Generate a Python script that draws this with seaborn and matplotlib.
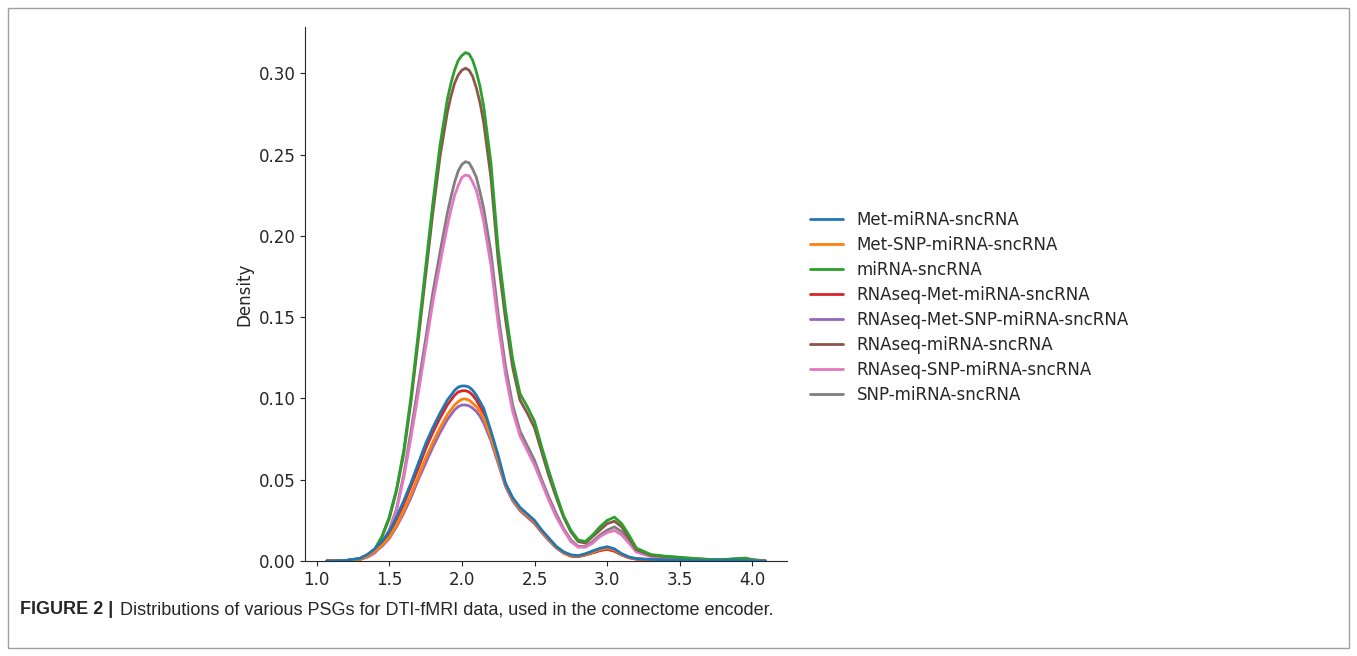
import matplotlib
matplotlib.use("Agg")
import matplotlib.pyplot as plt
from matplotlib.patches import Rectangle
import pandas as pd
import seaborn as sns

x_grid = [1.07, 1.2, 1.3, 1.35, 1.4, 1.45, 1.5, 1.55, 1.6, 1.65, 1.7, 1.75, 1.8, 1.85,
          1.9, 1.925, 1.95, 1.975, 2.0, 2.025, 2.05, 2.075, 2.1, 2.125, 2.15,
          2.2, 2.25, 2.3, 2.35, 2.4, 2.45, 2.5, 2.55,
          2.6, 2.65, 2.7, 2.75, 2.8, 2.85, 2.9, 2.95, 3.0, 3.05, 3.1, 3.15, 3.2, 3.3,
          3.4, 3.5, 3.6, 3.7, 3.8, 3.9, 3.95, 4.0, 4.09]

met_mirna = [0, 0.0003, 0.0017, 0.004, 0.0075, 0.012, 0.018, 0.027, 0.037, 0.048, 0.060,
             0.072, 0.082, 0.091,
             0.099, 0.102, 0.105, 0.107, 0.1077, 0.1077, 0.107, 0.105, 0.102, 0.098, 0.094,
             0.080, 0.065,
             0.048, 0.039, 0.033, 0.029, 0.025, 0.019, 0.014, 0.009, 0.0057, 0.0038, 0.0033,
             0.0045, 0.0062, 0.0078, 0.0088, 0.0075, 0.0045, 0.0025, 0.0015, 0.001, 0.0007,
             0.0005, 0.0003, 0.0003, 0.0004, 0.0004, 0.0003, 0.0002, 0]
met_snp_mirna = [0, 0.0002, 0.0012, 0.003, 0.006, 0.0095, 0.0145, 0.022, 0.031, 0.041, 0.052,
                 0.063, 0.073, 0.082,
                 0.090, 0.093, 0.096, 0.098, 0.0995, 0.0997, 0.099, 0.097, 0.095, 0.092, 0.088,
                 0.076, 0.062,
                 0.047, 0.038, 0.032, 0.028, 0.024, 0.018, 0.013, 0.0085, 0.0052, 0.0033, 0.003,
                 0.004, 0.0055, 0.007, 0.008, 0.0068, 0.004, 0.0022, 0.0013, 0.0009, 0.0006,
                 0.0004, 0.0003, 0.0002, 0.0003, 0.0003, 0.0002, 0.0001, 0]
mirna = [0, 0.0003, 0.0012, 0.003, 0.007, 0.015, 0.027, 0.044, 0.068, 0.101, 0.140, 0.180,
         0.220, 0.256,
         0.284, 0.294, 0.302, 0.308, 0.311, 0.3128, 0.312, 0.308, 0.301, 0.292, 0.280,
         0.245, 0.192, 0.155, 0.124,
         0.103, 0.095, 0.086, 0.070, 0.055, 0.041, 0.028, 0.019, 0.013, 0.012, 0.016, 0.021,
         0.025, 0.027, 0.023, 0.016, 0.008, 0.004, 0.003, 0.0023, 0.0016, 0.001, 0.0009,
         0.0016, 0.0018, 0.0009, 0]
rnaseq_met_mirna = [0, 0.0003, 0.0016, 0.0038, 0.007, 0.0112, 0.017, 0.0255, 0.035, 0.046,
                    0.057, 0.069, 0.079, 0.088,
                    0.096, 0.099, 0.102, 0.104, 0.1047, 0.1048, 0.104, 0.102, 0.099, 0.095, 0.091,
                    0.078, 0.063, 0.047, 0.038, 0.032, 0.028, 0.024, 0.018, 0.013, 0.0085,
                    0.005, 0.003, 0.0027, 0.0037, 0.005, 0.0064, 0.0072, 0.006, 0.0037, 0.002,
                    0.0012, 0.0008, 0.0006, 0.0004, 0.0003, 0.0002, 0.0003, 0.0003, 0.0002,
                    0.0001, 0]
rnaseq_met_snp_mirna = [0, 0.0002, 0.0011, 0.0028, 0.0055, 0.009, 0.0138, 0.021, 0.0295,
                        0.039, 0.050, 0.060, 0.070, 0.079,
                        0.087, 0.090, 0.093, 0.095, 0.096, 0.096, 0.0955, 0.094, 0.092, 0.089,
                        0.085, 0.074, 0.060, 0.046, 0.037, 0.031, 0.027, 0.023, 0.0175, 0.0125,
                        0.008, 0.005, 0.0031, 0.0028, 0.0038, 0.0052, 0.0066, 0.0075, 0.0064,
                        0.0038, 0.0021, 0.0012, 0.0008, 0.0006, 0.0004, 0.0003, 0.0002, 0.0003,
                        0.0003, 0.0002, 0.0001, 0]
rnaseq_mirna = [0, 0.0003, 0.0012, 0.003, 0.007, 0.015, 0.026, 0.043, 0.066, 0.098, 0.136,
                0.175, 0.214, 0.249,
                0.276, 0.286, 0.294, 0.299, 0.302, 0.3032, 0.302, 0.298, 0.291, 0.282, 0.270,
                0.236, 0.185,
                0.149, 0.119, 0.099, 0.091, 0.082, 0.067, 0.052, 0.039, 0.027, 0.018, 0.012,
                0.011, 0.015, 0.019, 0.023, 0.0245, 0.021, 0.014, 0.007, 0.0035, 0.0027, 0.002,
                0.0014, 0.0009, 0.0008, 0.0013, 0.0014, 0.0007, 0]
rnaseq_snp_mirna = [0, 0.0003, 0.001, 0.0023, 0.0048, 0.010, 0.018, 0.031, 0.051, 0.076, 0.103,
                    0.131, 0.159, 0.183,
                    0.206, 0.216, 0.225, 0.231, 0.236, 0.2375, 0.237, 0.233, 0.228, 0.219, 0.209,
                    0.182, 0.146,
                    0.115, 0.092, 0.077, 0.068, 0.059, 0.048, 0.037, 0.027, 0.019, 0.012, 0.0085,
                    0.0085, 0.011, 0.015, 0.0175, 0.0188, 0.016, 0.011, 0.0055, 0.0028, 0.0018,
                    0.0013, 0.0009, 0.0006, 0.0005, 0.0009, 0.0009, 0.0004, 0]
snp_mirna = [0, 0.0003, 0.001, 0.0025, 0.005, 0.011, 0.019, 0.032, 0.053, 0.080, 0.108, 0.136,
             0.165, 0.190,
             0.214, 0.224, 0.233, 0.240, 0.244, 0.2457, 0.245, 0.241, 0.236, 0.227, 0.217,
             0.190, 0.152, 0.120, 0.096,
             0.080, 0.071, 0.062, 0.050, 0.039, 0.029, 0.020, 0.013, 0.009, 0.009, 0.012, 0.016,
             0.019, 0.021, 0.018, 0.012, 0.006, 0.003, 0.002, 0.0015, 0.001, 0.0007, 0.0006,
             0.001, 0.001, 0.0005, 0]

names = ["Met-miRNA-sncRNA", "Met-SNP-miRNA-sncRNA", "miRNA-sncRNA", "RNAseq-Met-miRNA-sncRNA",
         "RNAseq-Met-SNP-miRNA-sncRNA", "RNAseq-miRNA-sncRNA", "RNAseq-SNP-miRNA-sncRNA",
         "SNP-miRNA-sncRNA"]
series = [met_mirna, met_snp_mirna, mirna, rnaseq_met_mirna, rnaseq_met_snp_mirna,
          rnaseq_mirna, rnaseq_snp_mirna, snp_mirna]

frames = [pd.DataFrame({"x": x_grid, "Density": vals, "PSG": name}) for name, vals in zip(names, series)]
df = pd.concat(frames, ignore_index=True)

sns.set_style("ticks")
plt.rcParams["font.family"] = ["DejaVu Sans"]
plt.rcParams["font.size"] = 12

palette = dict(zip(names, sns.color_palette("tab10", len(names))))

fig = plt.figure(figsize=(13.57, 6.56), dpi=100)
ax = fig.add_axes([0.2248, 0.1448, 0.3552, 0.8136])

# first group drawn last, so it sits on top (like kdeplot)
sns.lineplot(data=df, x="x", y="Density", hue="PSG", hue_order=names[::-1],
             palette=palette, linewidth=2.0, legend=False, ax=ax, sort=False)

ax.set_xlim(0.921, 4.238)
ax.set_ylim(0, 0.3284)
ax.set_xticks([1.0, 1.5, 2.0, 2.5, 3.0, 3.5, 4.0])
ax.set_yticks([0.0, 0.05, 0.10, 0.15, 0.20, 0.25, 0.30])
ax.set_yticklabels(["0.00", "0.05", "0.10", "0.15", "0.20", "0.25", "0.30"])
ax.set_xlabel("")
ax.set_ylabel("Density", fontsize=12)
ax.tick_params(labelsize=12)
sns.despine(ax=ax)

handles = ax.lines[::-1]
fig.legend(handles, names, loc="center left", bbox_to_anchor=(0.592, 0.532),
           frameon=False, fontsize=12, borderaxespad=0, labelspacing=0.42)

fig.add_artist(Rectangle((8 / 1357, 8 / 656), 1341 / 1357, 640 / 656, transform=fig.transFigure,
                         fill=False, edgecolor="#a0a0a0", linewidth=1.0))

cap_y = 1 - 610 / 656
t1 = fig.text(20 / 1357, cap_y, "FIGURE 2 |", fontsize=13, fontweight="bold",
              family=["Liberation Sans Narrow", "Liberation Sans"], va="center", ha="left")
fig.canvas.draw()
bb = t1.get_window_extent(renderer=fig.canvas.get_renderer())
fig.text(bb.x1 / 1357 + 7 / 1357, cap_y,
         "Distributions of various PSGs for DTI-fMRI data, used in the connectome encoder.",
         fontsize=13, family=["Liberation Sans Narrow", "Liberation Sans"], va="center", ha="left")

fig.savefig("out.png", dpi=100)
